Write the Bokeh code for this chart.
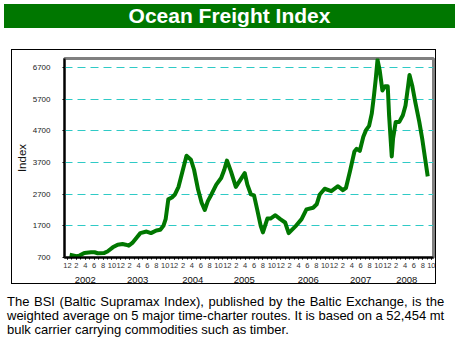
from bokeh.plotting import figure
from bokeh.models import FixedTicker, LinearAxis, Range1d, Div
from bokeh.layouts import column
from bokeh.embed import file_html
from bokeh.resources import INLINE

# ---- data (months counted from Dec 2001 = 0) ----
months = [0.5, 2.0, 2.7, 3.8, 5.3, 6.1, 6.8, 8.3, 9.0, 10.2, 11.3, 12.4, 13.1, 13.8,
          14.6, 15.6, 16.4, 17.8, 18.8, 20.0, 20.9, 21.6, 22.1, 22.7, 23.5, 24.2,
          25.0, 25.8, 26.8, 27.8, 28.5, 29.4, 30.2, 30.9, 31.6, 32.4, 33.5, 34.6,
          35.3, 35.9, 36.8, 37.9, 38.7, 39.9, 40.5, 41.3, 42.0, 42.7, 43.5, 44.0,
          45.0, 45.7, 46.8, 47.9, 49.0, 49.8, 51.3, 52.7, 53.8, 55.3, 56.1, 56.8,
          57.9, 59.4, 60.9, 62.0, 62.7, 63.6, 64.6, 65.1, 65.8, 66.6, 67.2, 67.9,
          68.5, 69.0, 69.4, 69.8, 70.3, 70.9, 71.5, 72.1, 72.4, 73.0, 73.3, 73.9,
          74.7, 75.5, 76.1, 76.7, 77.0, 77.6, 78.3, 79.2, 79.9, 80.5, 81.1]
bsi = [785, 740, 760, 845, 865, 865, 835, 845, 890, 1020, 1105, 1125, 1105, 1075,
       1160, 1335, 1470, 1520, 1470, 1555, 1575, 1700, 1910, 2535, 2595, 2690,
       2930, 3365, 3910, 3785, 3470, 2845, 2430, 2200, 2480, 2690, 3000, 3210,
       3470, 3760, 3420, 2930, 3105, 3365, 3000, 2690, 2660, 2220, 1700, 1490,
       1930, 1930, 2035, 1910, 1805, 1470, 1680, 1910, 2220, 2270, 2380, 2690,
       2870, 2795, 2950, 2825, 2900, 3420, 4045, 4130, 4065, 4510, 4720, 4855,
       5240, 5815, 6335, 6940, 6595, 5970, 6105, 6105, 5190, 3890, 4460, 4980,
       4980, 5190, 5500, 6130, 6460, 6130, 5605, 4980, 4410, 3835, 3260]

y_ticks = [700, 1700, 2700, 3700, 4700, 5700, 6700]
month_ticks = list(range(0, 83, 2))
month_minor = list(range(0, 83))
month_labels = [str((m + 11) % 12 + 1) for m in month_ticks]
years = ["2002", "2003", "2004", "2005", "2006", "2007", "2008"]
year_pos = [4.0, 15.8, 28.2, 39.8, 54.2, 66.0, 76.4]

title_text = "Ocean Freight Index"
caption_lines = [
    "The BSI (Baltic Supramax Index), published by the Baltic Exchange, is the",
    "weighted average on 5 major time-charter routes. It is based on a 52,454 mt",
    "bulk carrier carrying commodities such as timber.",
]

GREEN = "#007700"
FONT = "Liberation Sans"

p = figure(width=425, height=235, title=None,
           x_range=Range1d(-0.67, 82.4), y_range=Range1d(700, 6981),
           output_backend="svg", toolbar_location=None,
           min_border_left=46, min_border_right=4, min_border_top=8,
           min_border_bottom=26, margin=(21, 0, 0, 11),
           styles={"border": "1px solid black"},
           background_fill_color="white", border_fill_color="white")

p.outline_line_color = "#808080"
p.outline_line_width = 3

p.line(months, bsi, line_color=GREEN, line_width=4, line_join="round")

# grid
p.xgrid.grid_line_color = None
p.ygrid.ticker = FixedTicker(ticks=y_ticks)
p.ygrid.grid_line_color = "#2fcac6"
p.ygrid.grid_line_dash = "8 5"
p.ygrid.grid_line_width = 1.2

# y axis
ya = p.yaxis[0]
ya.ticker = FixedTicker(ticks=y_ticks)
ya.axis_label = "Index"
ya.axis_label_text_font = FONT
ya.axis_label_text_font_style = "normal"
ya.axis_label_text_font_size = "11.5px"
ya.axis_label_text_color = "#111111"
ya.axis_label_standoff = 2
ya.major_label_text_font = FONT
ya.major_label_text_font_size = "8px"
ya.major_label_text_color = "#222222"
ya.major_label_standoff = 12
ya.axis_line_color = "black"
ya.axis_line_width = 2
ya.major_tick_in = 0
ya.major_tick_out = 2
ya.major_tick_line_color = "black"
ya.minor_tick_line_color = None

# x axis (months)
xa = p.xaxis[0]
xa.ticker = FixedTicker(ticks=month_ticks, minor_ticks=month_minor)
xa.major_label_overrides = {m: lab for m, lab in zip(month_ticks, month_labels)}
xa.major_label_text_font = FONT
xa.major_label_text_font_size = "7.5px"
xa.major_label_text_color = "#333333"
xa.major_label_standoff = 3
xa.axis_line_color = "black"
xa.axis_line_width = 2
xa.major_tick_in = 0
xa.major_tick_out = 2
xa.minor_tick_in = 0
xa.minor_tick_out = 2
xa.major_tick_line_color = "black"
xa.minor_tick_line_color = "black"

# year axis
yr = LinearAxis(ticker=FixedTicker(ticks=year_pos),
                major_label_overrides={pos: y for pos, y in zip(year_pos, years)},
                axis_line_color=None, major_tick_line_color=None,
                minor_tick_line_color=None, major_label_standoff=0,
                major_label_text_font=FONT, major_label_text_font_size="9.5px",
                major_label_text_color="#111111")
p.add_layout(yr, "below")

title_div = Div(text=title_text, width=451, height=24, margin=(4, 4, 0, 4),
                styles={"background-color": GREEN, "color": "white",
                        "font-family": FONT, "font-weight": "bold",
                        "font-size": "21px", "line-height": "24px",
                        "text-align": "center"})

cap_html = "".join(
    '<div style="text-align:justify;text-align-last:%s;">%s</div>'
    % ("justify" if i < 2 else "left", line)
    for i, line in enumerate(caption_lines))
caption = Div(text=cap_html, width=446, height=44, margin=(11, 0, 0, 7),
              styles={"font-family": FONT, "font-size": "13px",
                      "line-height": "14px", "color": "black"})

layout = column(title_div, p, caption, spacing=0)

open("out.html", "w").write(file_html(layout, INLINE))
